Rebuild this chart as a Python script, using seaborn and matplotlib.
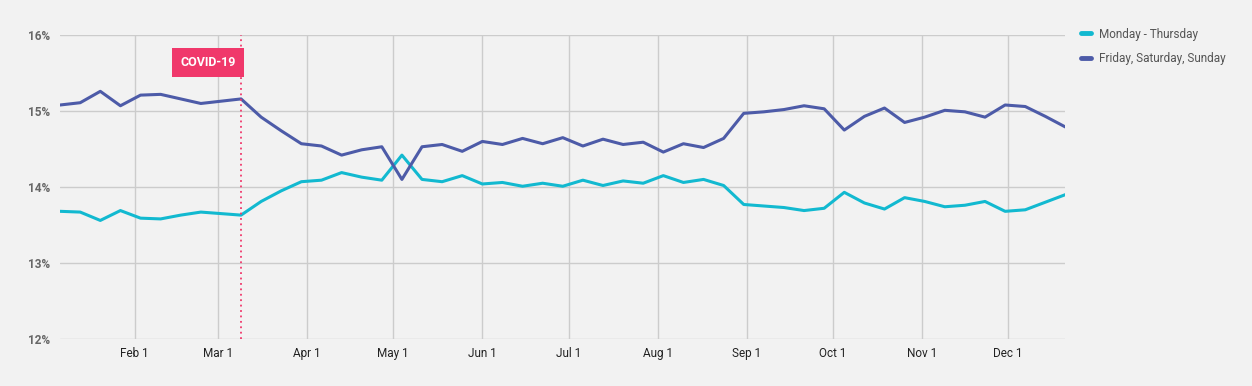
import matplotlib
matplotlib.use("Agg")
import matplotlib.pyplot as plt
import matplotlib.dates as mdates
from matplotlib.ticker import FuncFormatter
import seaborn as sns
import pandas as pd

# weekly share of searches, 2020
weeks = pd.date_range("2020-01-06", periods=51, freq="7D")

mon_thu = [13.68, 13.67, 13.56, 13.69, 13.59, 13.58, 13.63, 13.67, 13.65, 13.63,
           13.81, 13.95, 14.07, 14.09, 14.19, 14.13, 14.09, 14.42, 14.10, 14.07,
           14.15, 14.04, 14.06, 14.01, 14.05, 14.01, 14.09, 14.02, 14.08, 14.05,
           14.15, 14.06, 14.10, 14.02, 13.77, 13.75, 13.73, 13.69, 13.72, 13.93,
           13.79, 13.71, 13.86, 13.81, 13.74, 13.76, 13.81, 13.68, 13.70, 13.80,
           13.90]
fri_sun = [15.08, 15.11, 15.26, 15.07, 15.21, 15.22, 15.16, 15.10, 15.13, 15.16,
           14.92, 14.74, 14.57, 14.54, 14.42, 14.49, 14.53, 14.10, 14.53, 14.56,
           14.47, 14.60, 14.56, 14.64, 14.57, 14.65, 14.54, 14.63, 14.56, 14.59,
           14.46, 14.57, 14.52, 14.64, 14.97, 14.99, 15.02, 15.07, 15.03, 14.75,
           14.93, 15.04, 14.85, 14.92, 15.01, 14.99, 14.92, 15.08, 15.06, 14.93,
           14.79]

series_names = ["Monday - Thursday", "Friday, Saturday, Sunday"]
colors = ["#12b9d0", "#4d5ba8"]
covid_date = pd.Timestamp("2020-03-09")
covid_label = "COVID-19"

df = pd.DataFrame({
    "week": list(weeks) * 2,
    "share": mon_thu + fri_sun,
    "group": [series_names[0]] * len(weeks) + [series_names[1]] * len(weeks),
})

sns.set_style("white")
plt.rcParams["font.family"] = ["Roboto", "DejaVu Sans"]

fig = plt.figure(figsize=(12.52, 3.86), dpi=100, facecolor="#f2f2f2")
ax = fig.add_axes([0.048, 0.122, 0.803, 0.787])
ax.set_facecolor("#f2f2f2")

sns.lineplot(data=df, x="week", y="share", hue="group", palette=colors,
             linewidth=2.2, ax=ax)

ax.set_ylim(12, 16)
ax.set_yticks([12, 13, 14, 15, 16])
ax.yaxis.set_major_formatter(FuncFormatter(lambda v, p: f"{v:.0f}%"))
ax.set_xlim(weeks[0], weeks[-1])
ax.xaxis.set_major_locator(mdates.MonthLocator(bymonth=range(2, 13)))
ax.xaxis.set_major_formatter(mdates.DateFormatter("%b 1"))

ax.grid(True, color="#cccccc", linewidth=1)
ax.set_axisbelow(True)
for s in ax.spines.values():
    s.set_visible(False)
ax.tick_params(axis="x", length=0, pad=6, labelsize=8.5, labelcolor="#222222")
ax.tick_params(axis="y", length=0, pad=7, labelsize=8.5, labelcolor="#666666")
for lbl in ax.get_yticklabels():
    lbl.set_fontweight("bold")
ax.set_xlabel("")
ax.set_ylabel("")

# covid marker
ax.axvline(covid_date, color="#f0386b", linestyle=(0, (1, 2)), linewidth=1.3, zorder=3)
ax.annotate(covid_label, xy=(covid_date, 15.64), xytext=(-4, 0), textcoords="offset points",
            ha="right", va="center", color="white", fontsize=9, fontweight="bold",
            bbox=dict(boxstyle="square,pad=0.65", fc="#f0386b", ec="none"), zorder=4)

ax.legend(loc="upper left", bbox_to_anchor=(1.005, 1.06), frameon=False,
          handlelength=0.8, fontsize=8.5, labelcolor="#555555", labelspacing=0.95,
          handletextpad=0.7)
leg = ax.get_legend()
for h in leg.get_lines():
    h.set_linewidth(3.5)

fig.savefig("out.png", dpi=100, facecolor=fig.get_facecolor())
